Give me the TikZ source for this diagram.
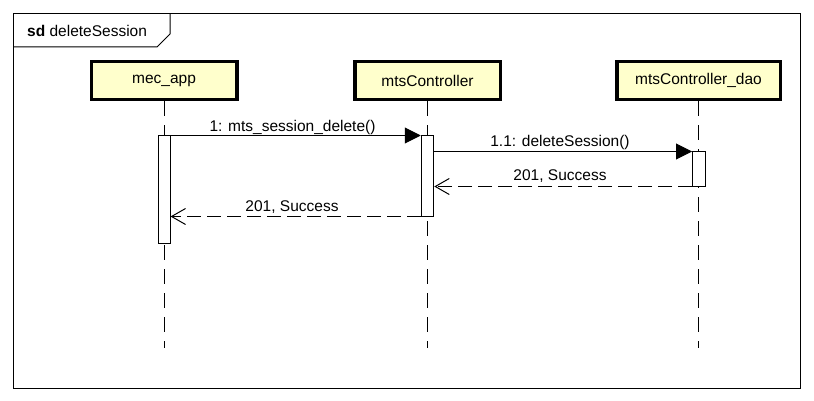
\documentclass[tikz,border=0pt]{standalone}
\usepackage{fontspec}
\setmainfont{Liberation Sans}
\usetikzlibrary{arrows.meta}
\definecolor{boxfill}{RGB}{255,255,204}
\begin{document}
\begin{tikzpicture}[x=1pt,y=-1pt,
 lifebox/.style={draw, line width=3.5pt, fill=boxfill, minimum width=145.5pt, minimum height=38pt, inner sep=0pt, font=\fontsize{15.5}{18}\selectfont},
 actbar/.style={draw, line width=1pt, fill=white, inner sep=0pt},
 lifeline/.style={line width=1pt, dash pattern=on 15pt off 9pt},
 call/.style={line width=1pt, -{Triangle[length=16pt,width=16pt]}},
 reply/.style={line width=1pt, dash pattern=on 14pt off 6pt, -{Straight Barb[length=14pt,width=16pt]}},
 lbl/.style={font=\fontsize{15.5}{18}\selectfont, anchor=base, inner sep=0pt}]
\useasboundingbox (0,0) rectangle (814,401);
\fill[white] (0,0) rectangle (814,401);
% frame
\draw[line width=1pt] (13.5,13.5) rectangle (800.5,388.5);
\draw[line width=1pt] (13.5,47) -- (157,47) -- (170,34) -- (170,13.5);
\node[lbl, anchor=base west] (sd) at (27,37) {\textbf{sd} deleteSession};
% lifeline heads
\node[lifebox] (ma) at (164,80.5) {mec\_app};
\node[lifebox] (mc) at (427.5,80.5) {mtsController};
\node[lifebox, minimum width=163.5pt] (md) at (698.5,80.5) {mtsController\_dao};
% lifeline ends
\coordinate (ea) at (164,348);
\coordinate (ec) at (427.5,348);
\coordinate (ed) at (698.5,348);
\draw[lifeline] (ma.south) -- (ea);
\draw[lifeline] (mc.south) -- (ec);
\draw[lifeline] (md.south) -- (ed);
% activation bars
\node[actbar, minimum width=12pt, minimum height=107pt] (ba) at (164,189.5) {};
\node[actbar, minimum width=12.5pt, minimum height=80pt] (bc) at (427.5,176) {};
\node[actbar, minimum width=13pt, minimum height=34pt] (bd) at (699,169) {};
% messages
\draw[call] (ba.north east) -- (bc.north west);
\node[lbl] (l1) at (292.5,132) {1: mts\_session\_delete()};
\draw[call] (bc.east |- bd.north) -- (bd.north west);
\node[lbl] (l2) at (560,147) {1.1: deleteSession()};
\draw[reply] (bd.south west) -- (bc.east |- bd.south);
\node[lbl] (l3) at (560,181) {201, Success};
\draw[reply] (bc.south west) -- (ba.east |- bc.south);
\node[lbl] (l4) at (292,211) {201, Success};
\end{tikzpicture}
\end{document}
